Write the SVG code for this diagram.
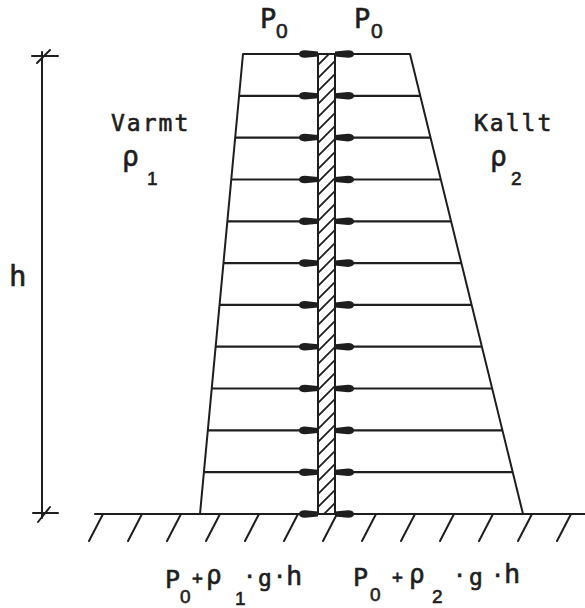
<svg xmlns="http://www.w3.org/2000/svg" width="585" height="608" viewBox="0 0 585 608">
<style>
.ln{stroke:#1e1e1e;stroke-width:2;fill:none;stroke-linecap:round}
.hl{stroke:#1e1e1e;stroke-width:2.2;fill:none}
.ah{fill:#1e1e1e}
.t{font-family:"DejaVu Sans Mono","Liberation Mono",monospace;fill:#1e1e1e;stroke:#1e1e1e;stroke-width:0.6}
.d{font-family:"Liberation Sans","DejaVu Sans",sans-serif;fill:#1e1e1e;stroke:#1e1e1e;stroke-width:0.6}
</style>
<defs>
<pattern id="hatch" patternUnits="userSpaceOnUse" x="318" y="0" width="13" height="13">
<path d="M0,13 L13,0 M-3,3 L3,-3 M10,16 L16,10" stroke="#1e1e1e" stroke-width="1.8"/>
</pattern>
<path id="al" class="ah" d="M0,-2.5 L-13,-3.8 Q-19,-3.8 -19,0 Q-19,3.8 -13,3.8 L0,2.5 Z"/>
<path id="ar" class="ah" d="M0,-2.5 L13,-3.8 Q19,-3.8 19,0 Q19,3.8 13,3.8 L0,2.5 Z"/>
</defs>
<rect width="585" height="608" fill="#ffffff"/>

<g id="dimension">
<line class="ln" x1="42" y1="52" x2="42" y2="518"/>
<line class="ln" x1="32" y1="56" x2="58" y2="56"/>
<line class="ln" x1="37" y1="63" x2="50" y2="50"/>
<line class="ln" x1="33" y1="513" x2="58" y2="513"/>
<line class="ln" x1="38" y1="522" x2="50" y2="507"/>
<text class="t" x="9" y="286" font-size="29">h</text>
</g>

<g id="ground">
<line class="ln" x1="95" y1="514" x2="585" y2="514"/>
<path class="ln" d="M103,514 L89,541 M142,514 L128,541 M181,514 L167,541 M220,514 L206,541 M259,514 L245,541 M298,514 L284,541 M337,514 L323,541 M376,514 L362,541 M415,514 L401,541 M454,514 L440,541 M493,514 L479,541 M532,514 L518,541 M571,514 L557,541"/>
</g>

<g id="wall">
<rect x="318" y="54" width="17" height="460" fill="url(#hatch)" stroke="#1e1e1e" stroke-width="2"/>
</g>

<g id="warm-side">
<line class="ln" x1="243" y1="54" x2="200" y2="514"/>
<text class="t" x="111" y="131" font-size="23" letter-spacing="2">Varmt</text>
<text class="t" x="122" y="166" font-size="28">ρ</text>
<text class="d" x="147" y="185" font-size="19">1</text>
</g>

<g id="cold-side">
<line class="ln" x1="410" y1="54" x2="523" y2="514"/>
<text class="t" x="474" y="131" font-size="23" letter-spacing="2">Kallt</text>
<text class="t" x="490" y="166" font-size="28">ρ</text>
<text class="d" x="511" y="185" font-size="19">2</text>
</g>

<g id="top-labels">
<text class="t" x="260" y="28" font-size="27">P</text>
<text class="d" x="276" y="38" font-size="21">0</text>
<text class="t" x="354" y="28" font-size="27">P</text>
<text class="d" x="371" y="38" font-size="21">0</text>
</g>

<g id="pressure-lines">
<line class="hl" x1="243" y1="54" x2="410" y2="54"/>
<line class="hl" x1="239.1" y1="95.8" x2="318" y2="95.8"/><line class="hl" x1="335" y1="95.8" x2="420.3" y2="95.8"/>
<line class="hl" x1="235.2" y1="137.6" x2="318" y2="137.6"/><line class="hl" x1="335" y1="137.6" x2="430.5" y2="137.6"/>
<line class="hl" x1="231.3" y1="179.5" x2="318" y2="179.5"/><line class="hl" x1="335" y1="179.5" x2="440.8" y2="179.5"/>
<line class="hl" x1="227.4" y1="221.3" x2="318" y2="221.3"/><line class="hl" x1="335" y1="221.3" x2="451.1" y2="221.3"/>
<line class="hl" x1="223.5" y1="263.1" x2="318" y2="263.1"/><line class="hl" x1="335" y1="263.1" x2="461.4" y2="263.1"/>
<line class="hl" x1="219.5" y1="304.9" x2="318" y2="304.9"/><line class="hl" x1="335" y1="304.9" x2="471.6" y2="304.9"/>
<line class="hl" x1="215.6" y1="346.7" x2="318" y2="346.7"/><line class="hl" x1="335" y1="346.7" x2="481.9" y2="346.7"/>
<line class="hl" x1="211.7" y1="388.5" x2="318" y2="388.5"/><line class="hl" x1="335" y1="388.5" x2="492.2" y2="388.5"/>
<line class="hl" x1="207.8" y1="430.4" x2="318" y2="430.4"/><line class="hl" x1="335" y1="430.4" x2="502.5" y2="430.4"/>
<line class="hl" x1="203.9" y1="472.2" x2="318" y2="472.2"/><line class="hl" x1="335" y1="472.2" x2="512.7" y2="472.2"/>
</g>

<g id="arrows">
<use href="#al" x="318" y="54"/><use href="#ar" x="335" y="54"/>
<use href="#al" x="318" y="95.8"/><use href="#ar" x="335" y="95.8"/>
<use href="#al" x="318" y="137.6"/><use href="#ar" x="335" y="137.6"/>
<use href="#al" x="318" y="179.5"/><use href="#ar" x="335" y="179.5"/>
<use href="#al" x="318" y="221.3"/><use href="#ar" x="335" y="221.3"/>
<use href="#al" x="318" y="263.1"/><use href="#ar" x="335" y="263.1"/>
<use href="#al" x="318" y="304.9"/><use href="#ar" x="335" y="304.9"/>
<use href="#al" x="318" y="346.7"/><use href="#ar" x="335" y="346.7"/>
<use href="#al" x="318" y="388.5"/><use href="#ar" x="335" y="388.5"/>
<use href="#al" x="318" y="430.4"/><use href="#ar" x="335" y="430.4"/>
<use href="#al" x="318" y="472.2"/><use href="#ar" x="335" y="472.2"/>
<use href="#al" x="318" y="514"/><use href="#ar" x="335" y="514"/>
</g>

<g id="bottom-left-formula">
<text class="t" x="165" y="588" font-size="25">P</text>
<text class="d" x="180" y="603" font-size="19">0</text>
<text class="t" x="192" y="584" font-size="18">+</text>
<text class="t" x="206" y="584" font-size="26">ρ</text>
<text class="d" x="235" y="605" font-size="19">1</text>
<text class="t" x="243" y="584" font-size="22">·</text>
<text class="t" x="258" y="586" font-size="23">g</text>
<text class="t" x="273" y="584" font-size="22">·</text>
<text class="t" x="286" y="585" font-size="27">h</text>
</g>

<g id="bottom-right-formula">
<text class="t" x="353" y="586" font-size="25">P</text>
<text class="d" x="370" y="601" font-size="19">0</text>
<text class="t" x="392" y="583" font-size="18">+</text>
<text class="t" x="409" y="583" font-size="26">ρ</text>
<text class="d" x="432" y="603" font-size="19">2</text>
<text class="t" x="453" y="583" font-size="22">·</text>
<text class="t" x="469" y="585" font-size="23">g</text>
<text class="t" x="491" y="583" font-size="22">·</text>
<text class="t" x="504" y="583" font-size="27">h</text>
</g>
</svg>
